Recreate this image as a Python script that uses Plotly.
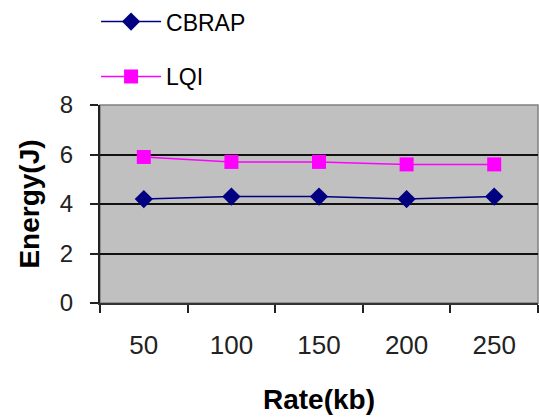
import plotly.graph_objects as go

rates = ["50", "100", "150", "200", "250"]
cbrap = [4.2, 4.3, 4.3, 4.2, 4.3]
lqi = [5.9, 5.7, 5.7, 5.6, 5.6]
y_ticks = [0, 2, 4, 6, 8]

FONT = "Liberation Sans, Arial, sans-serif"

fig = go.Figure()
fig.add_trace(go.Scatter(
    x=rates, y=cbrap, name="CBRAP", mode="lines+markers", legendgroup="a",
    line=dict(color="#000080", width=1.5),
    marker=dict(symbol="diamond", size=14, color="#000080"),
))
fig.add_trace(go.Scatter(
    x=rates, y=lqi, name="LQI", mode="lines+markers", legendgroup="b",
    line=dict(color="#FF00FF", width=1.5),
    marker=dict(symbol="square", size=14, color="#FF00FF"),
))

fig.add_shape(type="rect", xref="paper", yref="paper", x0=0, x1=1, y0=0, y1=1,
              line=dict(color="#808080", width=1.5), fillcolor="rgba(0,0,0,0)", layer="below")

fig.update_layout(
    width=539, height=417,
    margin=dict(l=100, r=1, t=104, b=114),
    paper_bgcolor="white", plot_bgcolor="#C0C0C0",
    font=dict(family=FONT, color="black", size=22),
    showlegend=True,
    legend=dict(x=-0.009, y=1.522, xanchor="left", yanchor="top", itemwidth=60,
                orientation="v", tracegroupgap=22,
                font=dict(size=23, family=FONT), bgcolor="rgba(0,0,0,0)"),
    xaxis=dict(
        type="category", range=[-0.5, len(rates) - 0.5],
        tickson="boundaries", ticks="outside", ticklen=8,
        tickcolor="#222", tickwidth=2, showgrid=False, tickangle=0,
        showline=True, linecolor="#333", linewidth=2,
        tickfont=dict(size=26, color="#222"), ticklabelstandoff=18,
        title=dict(text="<b>Rate(kb)</b>", font=dict(size=28), standoff=30),
    ),
    yaxis=dict(
        range=[0, 8], tickvals=y_ticks, ticks="outside", ticklen=8,
        tickcolor="#222", tickwidth=2,
        showgrid=True, gridcolor="#111", gridwidth=1.5, zeroline=False,
        showline=True, linecolor="#222", linewidth=2,
        tickfont=dict(size=24, color="#222"), ticklabelstandoff=12,
        title=dict(text="<b>Energy(J)</b>", font=dict(size=28), standoff=12),
    ),
)

fig.write_html("out.html", config={"displayModeBar": False},
               post_script="document.body.style.margin='0';")
